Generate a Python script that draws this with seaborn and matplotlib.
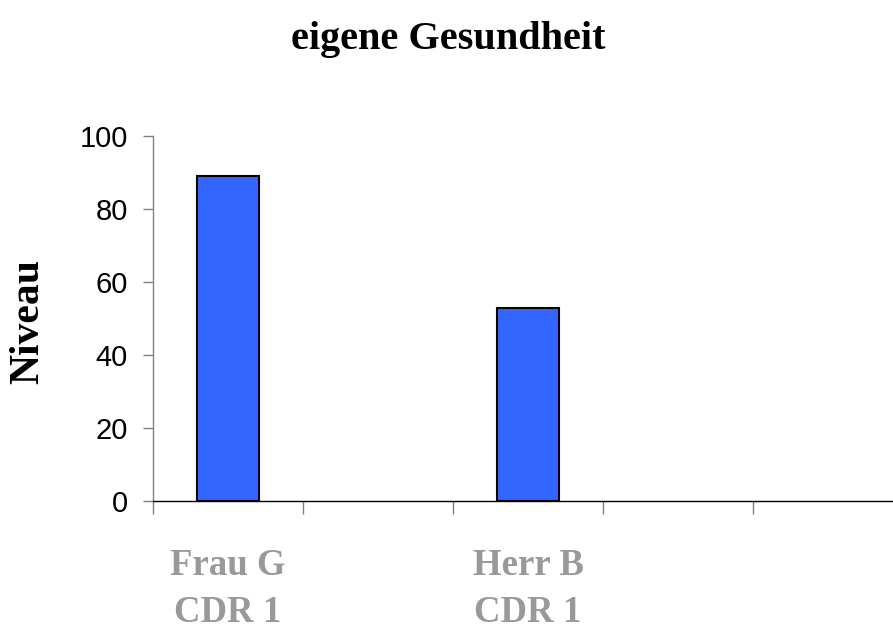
import numpy as np
import pandas as pd
import matplotlib
matplotlib.use("Agg")
from matplotlib import pyplot as plt
import seaborn as sb

# data
categories = ["Frau G\nCDR 1", "", "Herr B\nCDR 1", " ", "  "]
values = [89, np.nan, 53, np.nan, np.nan]
yticks = [0, 20, 40, 60, 80, 100]

sb.set_style("white")
plt.rcParams['font.family'] = ['Liberation Sans', 'DejaVu Sans']
plt.rcParams['text.color'] = 'black'
plt.rcParams['ytick.color'] = 'black'
plt.rcParams['xtick.color'] = 'black'

df = pd.DataFrame({"Person": categories, "Niveau": values}).dropna()

fig = plt.figure(figsize=(8.93, 6.34), dpi=100)
ax = fig.add_axes([153/893, 133/634, 750/893, 365/634])

sb.barplot(data=df, x="Person", y="Niveau", order=categories, ax=ax,
           color="#3366FF", saturation=1, width=0.41,
           edgecolor="black", linewidth=1.5)

ax.set_xlim(-0.5, len(categories) - 0.5)
ax.set_ylim(0, 100)
ax.set_yticks(yticks)
ax.set_yticklabels([str(v) for v in yticks], fontsize=21, color='black')
ax.tick_params(axis='y', direction='out', length=7.2, width=1,
               color='#808080', pad=11, left=True)

# tick marks between categories, labels under the bar slots
ax.set_xticks(np.arange(len(categories) + 1) - 0.5)
ax.set_xticklabels([])
ax.set_xticks(np.arange(len(categories)), minor=True)
ax.set_xticklabels(categories, minor=True, fontsize=26.5, fontweight='bold',
                   family='Liberation Serif', color='#999999', linespacing=1.45)
ax.tick_params(axis='x', which='major', direction='out', length=9.4,
               width=1, color='#808080', bottom=True)
ax.tick_params(axis='x', which='minor', length=0, pad=34)

ax.set_xlabel("")
ax.set_ylabel("")
for s in ["top", "right"]:
    ax.spines[s].set_visible(False)
ax.spines["left"].set_color("#808080")
ax.spines["bottom"].set_color("black")
ax.spines["left"].set_linewidth(1)
ax.spines["bottom"].set_linewidth(1)

fig.text(448.5/893, 1 - 49/634, "eigene Gesundheit", ha='center',
         va='baseline', fontsize=29, fontweight='bold', family='Liberation Serif')
fig.text(28/893, 1 - 322/634, "Niveau", rotation=90, ha='center', va='center',
         fontsize=30, fontweight='bold', family='Liberation Serif')

fig.savefig("out.png", dpi=100)
